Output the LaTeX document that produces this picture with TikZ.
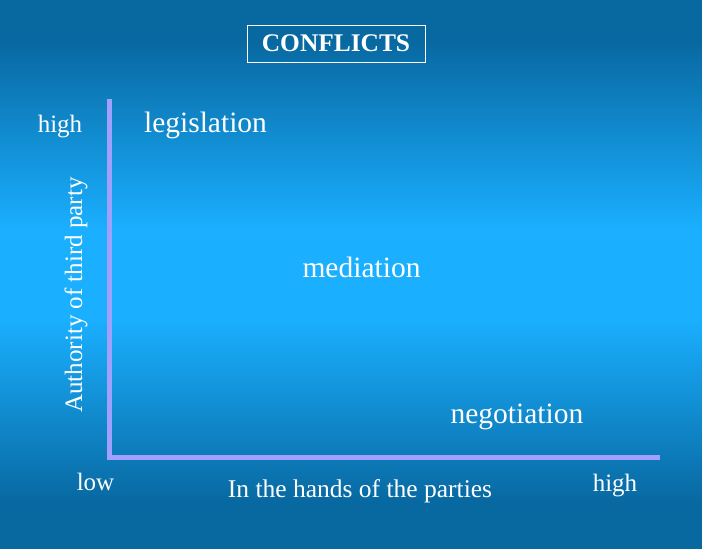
\documentclass[tikz,border=0pt]{standalone}
\usepackage{fontspec}
\setmainfont{Liberation Serif}
\usepackage{xcolor}
\usetikzlibrary{positioning}
\definecolor{bgdark}{HTML}{0868A0}
\definecolor{bglight}{HTML}{1AAFFF}
\definecolor{axiscol}{HTML}{A0A0FF}
% stops of a 100bp shading, the middle 25bp--75bp band covers the page
\pgfdeclareverticalshading{bgshade}{100bp}{color(0bp)=(bgdark); color(29.1bp)=(bgdark);
	color(45.9bp)=(bglight); color(54.1bp)=(bglight); color(71.4bp)=(bgdark); color(100bp)=(bgdark)}
\newcommand{\smalltxt}{\fontsize{25}{30}\selectfont}
\newcommand{\bigtxt}{\fontsize{29.5}{34}\selectfont}

\begin{document}
\begin{tikzpicture}[x=1pt, y=-1pt,
		label/.style={text=white, inner sep=0pt, anchor=base, font=\smalltxt},
		region/.style={text=white, inner sep=0pt, anchor=base, font=\bigtxt},
		axis/.style={draw=axiscol, line width=4.5pt, line join=miter}]
			\useasboundingbox (0,0) rectangle (702,549);
			\shade[shading=bgshade] (0,0) rectangle (702,549);

			\node[draw=white, line width=0.8pt, text=white, font=\fontsize{25.4}{30}\selectfont\bfseries,
				minimum width=178pt, minimum height=37pt, inner sep=0pt] (title) at (336,43.5) {CONFLICTS};

			\coordinate (ytop) at (109.5,99);
			\coordinate (origin) at (109.5,457.5);
			\coordinate (xend) at (660,457.5);
			\draw[axis] (ytop) -- (origin) -- (xend);

			\node[label] (yhigh) at (60,132) {high};
			\node[label] (xlow) at (95.5,490) {low};
			\node[label] (xhigh) at (615,491) {high};
			\node[label, font=\fontsize{25.5}{30}\selectfont] (xname) at (360,497) {In the hands of the parties};
			\node[label, rotate=90] (yname) at (82,295) {Authority of third party};

			\node[region] (legis) at (205.5,132) {legislation};
			\node[region] (media) at (361.5,277) {mediation};
			\node[region] (nego) at (517,423) {negotiation};
		\end{tikzpicture}
\end{document}
